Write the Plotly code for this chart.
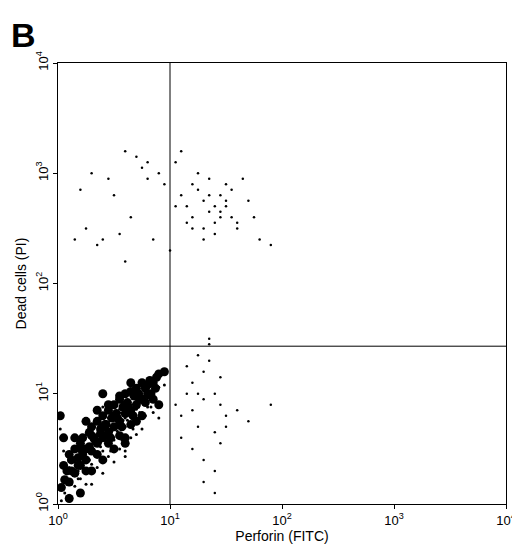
import plotly.graph_objects as go

# event positions, in log10 units (decades)
main_lx = [0.05,0.08,0.1,0.12,0.15,0.18,0.2,0.22,0.25,0.28,0.3,0.32,0.35,0.38,0.4,0.42,0.45,0.48,0.5,0.52,0.55,0.58,0.6,0.62,0.65,0.68,0.7,0.72,0.75,0.78,0.8,0.82,0.85,0.88,0.9,
           0.1,0.15,0.2,0.25,0.3,0.35,0.4,0.45,0.5,0.55,0.6,0.65,0.7,0.75,0.8,0.2,0.3,0.4,0.5,0.6,0.7,0.25,0.35,0.45,0.55,0.65,0.75,0.85,
           0.03,0.06,0.12,0.18,0.22,0.28,0.33,0.38,0.43,0.47,0.53,0.57,0.62,0.67,0.73,0.78,0.83,0.87,0.15,0.25,0.35,0.45,0.55,0.65,0.3,0.4,0.5,0.6,0.1,0.2,0.05,0.02,0.4,0.9,0.95,0.6,0.7]
main_ly = [0.35,0.3,0.45,0.4,0.5,0.42,0.55,0.6,0.5,0.65,0.7,0.6,0.75,0.68,0.8,0.72,0.85,0.78,0.9,0.82,0.95,0.88,1.0,0.92,1.02,0.98,1.05,1.0,1.1,1.05,1.08,1.12,1.1,1.15,1.18,
           0.2,0.28,0.35,0.4,0.48,0.55,0.6,0.65,0.7,0.75,0.82,0.85,0.9,0.95,1.0,0.5,0.62,0.7,0.8,0.9,0.98,0.3,0.45,0.55,0.62,0.72,0.8,0.95,
           0.15,0.22,0.3,0.35,0.45,0.52,0.58,0.64,0.72,0.6,0.78,0.7,0.88,0.8,0.95,0.92,1.0,1.05,0.6,0.75,0.85,0.9,0.98,1.1,0.3,0.4,0.5,0.6,0.05,0.1,0.6,0.8,1.0,0.9,1.2,0.55,0.75]
upper_lx = [0.3,0.45,0.6,0.7,0.75,0.8,0.9,0.15,0.25,0.5,0.65,0.85,0.35,0.55,0.95,1.05,1.1,1.15,1.2,1.25,1.3,1.35,1.4,1.45,1.5,1.55,1.6,1.2,1.3,1.4,1.5,1.1,1.25,1.35,1.45,1.55,1.7,1.8,1.9,1.0,1.15,1.3,1.4,1.5,1.6,1.05,1.2,1.35,1.45,0.4,0.6,0.8,0.2,1.65,1.75]
upper_ly = [3.0,2.95,3.2,3.15,3.05,3.1,3.0,2.4,2.5,2.8,2.6,2.4,2.35,2.45,2.9,3.1,2.8,2.7,2.6,2.85,2.75,2.65,2.7,2.8,2.75,2.6,2.5,2.5,2.4,2.55,2.9,3.2,3.0,2.95,2.6,2.85,2.75,2.4,2.35,2.3,2.55,2.5,2.45,2.7,2.55,2.7,2.9,2.8,2.65,2.4,2.2,2.95,2.85,2.95,2.6]
lower_lx = [1.05,1.1,1.15,1.2,1.25,1.3,1.35,1.4,1.45,1.5,1.1,1.2,1.3,1.4,1.5,1.15,1.25,1.35,1.45,1.6,1.7,1.3,1.4,1.35,1.25,1.45,1.2,1.3,1.4,1.9]
lower_ly = [0.9,0.8,1.0,1.1,0.7,1.2,1.3,1.0,0.9,0.8,0.6,0.5,0.4,0.3,0.7,1.25,1.35,1.45,1.15,0.85,0.75,0.2,0.1,1.5,1.0,0.55,0.85,0.95,0.65,0.9]

x_gate = 10
y_gate = 27

tickvals = [1, 10, 100, 1000, 10000]
ticktext = ["10<sup>0</sup>", "10<sup>1</sup>", "10<sup>2</sup>", "10<sup>3</sup>", "10<sup>4</sup>"]

fig = go.Figure()
# dense double-negative population drawn with bigger dots so it reads as a blob
fig.add_trace(go.Scatter(x=[10 ** v for v in main_lx], y=[10 ** v for v in main_ly], mode="markers",
                         marker=dict(color="black", size=9), hoverinfo="skip"))
fig.add_trace(go.Scatter(x=[10 ** v for v in main_lx], y=[10 ** (v - 0.12) for v in main_ly], mode="markers",
                         marker=dict(color="black", size=3), hoverinfo="skip"))
fig.add_trace(go.Scatter(x=[10 ** v for v in upper_lx + lower_lx], y=[10 ** v for v in upper_ly + lower_ly],
                         mode="markers", marker=dict(color="black", size=2.5), hoverinfo="skip"))
fig.add_shape(type="line", x0=x_gate, x1=x_gate, y0=1, y1=10000, line=dict(color="black", width=1))
fig.add_shape(type="line", x0=1, x1=10000, y0=y_gate, y1=y_gate, line=dict(color="black", width=1))

axis = dict(type="log", range=[0, 4], tickvals=tickvals, ticktext=ticktext,
            showgrid=False, zeroline=False, showline=True, linecolor="black", mirror=True,
            ticks="outside", ticklen=4, tickcolor="black", tickfont=dict(size=13, color="black"))
fig.update_xaxes(**axis, title=dict(text="Perforin (FITC)", font=dict(size=14), standoff=4))
fig.update_yaxes(**axis, tickangle=-90, title=dict(text="Dead cells (PI)", font=dict(size=14), standoff=4))

fig.add_annotation(text="<b>B</b>", x=-0.11, y=1.11, xref="paper", yref="paper",
                   showarrow=False, font=dict(size=34, color="black"), xanchor="left")
fig.update_layout(width=520, height=545, plot_bgcolor="white", paper_bgcolor="white",
                  font=dict(family="Arial, Liberation Sans", color="black"),
                  margin=dict(l=50, r=15, t=55, b=40), showlegend=False)
fig.write_html("out.html")
